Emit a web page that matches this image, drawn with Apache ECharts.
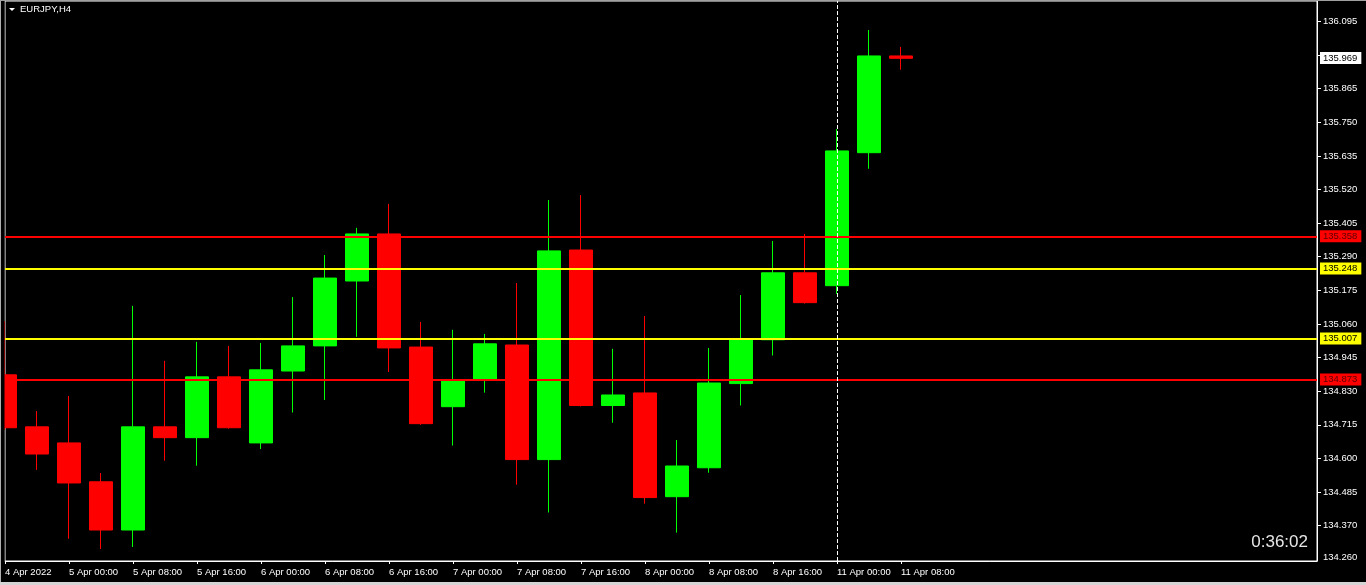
<!DOCTYPE html>
<html>
<head>
<meta charset="utf-8">
<style>
html,body{margin:0;padding:0;background:#000;}
#chart{width:1366px;height:585px;}
</style>
<script src="https://cdn.jsdelivr.net/npm/echarts@6/dist/echarts.min.js"></script>
</head>
<body>
<div id="chart"></div>
<script>
// ---- data (EURJPY, H4) ----
var categories = ['4 Apr 2022','4 Apr 20:00','5 Apr 00:00','5 Apr 04:00','5 Apr 08:00','5 Apr 12:00','5 Apr 16:00','5 Apr 20:00',
  '6 Apr 00:00','6 Apr 04:00','6 Apr 08:00','6 Apr 12:00','6 Apr 16:00','6 Apr 20:00','7 Apr 00:00','7 Apr 04:00',
  '7 Apr 08:00','7 Apr 12:00','7 Apr 16:00','7 Apr 20:00','8 Apr 00:00','8 Apr 04:00','8 Apr 08:00','8 Apr 12:00',
  '8 Apr 16:00','8 Apr 20:00','11 Apr 00:00','11 Apr 04:00','11 Apr 08:00'];
var openP  = [134.886,134.708,134.653,134.520,134.355,134.708,134.671,134.879,134.653,134.899,134.985,135.207,135.368,134.981,134.777,134.869,134.988,134.596,135.313,134.781,134.824,134.469,134.568,134.856,135.006,135.235,135.191,135.646,135.977];
var closeP = [134.705,134.615,134.516,134.355,134.708,134.671,134.879,134.705,134.903,134.985,135.217,135.368,134.978,134.719,134.869,134.992,134.596,135.310,134.781,134.817,134.466,134.574,134.858,135.005,135.235,135.133,135.652,135.977,135.969];
var lowP   = [134.697,134.561,134.325,134.290,134.297,134.592,134.575,134.702,134.632,134.757,134.800,135.016,134.896,134.715,134.644,134.825,134.510,134.415,134.778,134.722,134.445,134.346,134.551,134.781,134.952,135.130,135.163,135.591,135.930];
var highP  = [135.070,134.762,134.814,134.550,135.122,134.934,134.999,134.985,134.995,135.152,135.296,135.389,135.471,135.067,135.040,135.026,135.200,135.484,135.501,134.975,135.087,134.663,134.978,135.159,135.344,135.368,135.727,136.066,136.008];
var levelValues = [135.358, 135.248, 135.007, 134.873];
var levelColors = ['#ff0000', '#ffff00', '#ffff00', '#ff0000'];
var levelTextColors = ['#5a0000', '#000000', '#000000', '#5a0000'];
var bidPrice = 135.969;
var sessionLineIndex = 26;
var yTickValues = [134.370,134.485,134.600,134.715,134.830,134.945,135.060,135.175,135.290,135.405,135.520,135.635,135.750,135.865,135.980,136.095];
var yLabelValues = [134.260,134.370,134.485,134.600,134.715,134.830,134.945,135.060,135.175,135.290,135.405,135.520,135.635,135.750,135.865,136.095];
var yMin = 134.249, yMax = 136.165;
var emptySlots = 13;
var symbolTitle = 'EURJPY,H4';
var timerText = '0:36:02';

// ---- build ----
var xData = categories.slice();
for (var i = 0; i < emptySlots; i++) xData.push('');
var candleData = openP.map(function (o, i) { return [o, closeP[i], lowP[i], highP[i]]; });
var lastIdx = categories.length - 1;
function showIdx(idx) { return idx % 2 === 0 && idx <= lastIdx; }

function boxLabel(text, bg, fg) {
  return {
    show: true, position: 'end', distance: 3,
    formatter: text,
    backgroundColor: bg, color: fg,
    fontFamily: 'Liberation Sans', fontSize: 9.5, lineHeight: 10, padding: [1, 4, 1, 3]
  };
}
var markData = levelValues.map(function (v, i) {
  return {
    yAxis: v,
    lineStyle: { color: levelColors[i], width: 2, type: 'solid' },
    label: boxLabel(v.toFixed(3), levelColors[i], levelTextColors[i])
  };
});
markData.push({
  yAxis: bidPrice,
  lineStyle: { color: 'rgba(0,0,0,0)', width: 1, type: 'solid' },
  label: boxLabel(bidPrice.toFixed(3), '#ffffff', '#000000')
});
markData.push({
  xAxis: sessionLineIndex,
  lineStyle: { color: '#ffffff', width: 1, type: [4, 2] },
  label: { show: false }
});

var chart = echarts.init(document.getElementById('chart'), null, { renderer: 'canvas' });
chart.setOption({
  backgroundColor: '#000000',
  animation: false,
  grid: {
    left: 5, right: 49, top: 1, bottom: 24,
    show: true, borderColor: '#ffffff', borderWidth: 1, backgroundColor: 'transparent'
  },
  xAxis: {
    type: 'category',
    data: xData,
    boundaryGap: false,
    axisLine: { show: true, lineStyle: { color: '#ffffff', width: 1 } },
    axisTick: { show: true, interval: function (idx) { return showIdx(idx); }, length: 3, lineStyle: { color: '#ffffff' } },
    axisLabel: {
      show: true, interval: function (idx) { return showIdx(idx); },
      align: 'left', color: '#ffffff', fontFamily: 'Liberation Sans', fontSize: 9.5, margin: 6,
      hideOverlap: false
    },
    splitLine: { show: false }
  },
  yAxis: {
    type: 'value',
    position: 'right',
    min: yMin, max: yMax,
    scale: true,
    axisLine: { show: true, lineStyle: { color: '#ffffff' } },
    axisTick: { show: true, customValues: yTickValues, length: 4, lineStyle: { color: '#ffffff' } },
    axisLabel: {
      show: true, customValues: yLabelValues,
      formatter: function (v) { return v.toFixed(3); },
      color: '#ffffff', fontFamily: 'Liberation Sans', fontSize: 9.5, margin: 6
    },
    splitLine: { show: false }
  },
  series: [{
    type: 'candlestick',
    data: candleData,
    barWidth: 24,
    clip: true,
    itemStyle: {
      color: '#00ff00', color0: '#ff0000',
      borderColor: '#00ff00', borderColor0: '#ff0000',
      borderWidth: 1
    },
    markLine: {
      silent: true,
      symbol: ['none', 'none'],
      animation: false,
      data: markData
    }
  }],
  graphic: [
    { type: 'rect', z: 100, shape: { x: 0, y: 0, width: 4.5, height: 585 }, style: { fill: '#000000' }, silent: true },
    { type: 'rect', z: 101, shape: { x: 0, y: 0, width: 1, height: 585 }, style: { fill: '#b0b0b0' }, silent: true },
    { type: 'rect', z: 101, shape: { x: 0, y: 0, width: 1366, height: 1 }, style: { fill: '#a0a0a0' }, silent: true },
    { type: 'rect', z: 101, shape: { x: 0, y: 582, width: 1366, height: 3 }, style: { fill: '#d4d4d4' }, silent: true },
    { type: 'polygon', shape: { points: [[9, 8], [15, 8], [12, 11]] }, style: { fill: '#ffffff' }, silent: true },
    { type: 'text', left: 20, top: 4, style: { text: symbolTitle, fill: '#ffffff', font: '9.5px "Liberation Sans"' }, silent: true },
    { type: 'text', right: 58, top: 534, style: { text: timerText, fill: '#e6e6e6', font: '17px "Liberation Sans"', align: 'right' }, silent: true }
  ]
});
</script>
</body>
</html>
